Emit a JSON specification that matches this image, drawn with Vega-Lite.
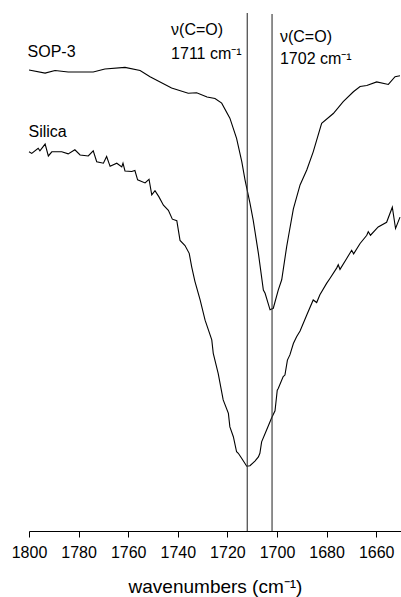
{
  "$schema": "https://vega.github.io/schema/vega-lite/v6.json",
  "width": 372,
  "height": 518,
  "autosize": {"type": "none"},
  "padding": {"left": 29, "top": 13, "right": 0, "bottom": 66},
  "background": "white",
  "config": {
    "view": {"stroke": null},
    "font": "Liberation Sans"
  },
  "datasets": {
    "spectra": [
      {"series": "SOP-3", "wn": 1800, "t": 89.0},
      {"series": "SOP-3", "wn": 1793.5, "t": 88.4},
      {"series": "SOP-3", "wn": 1789.5, "t": 88.9},
      {"series": "SOP-3", "wn": 1784.2, "t": 88.6},
      {"series": "SOP-3", "wn": 1774.1, "t": 88.6},
      {"series": "SOP-3", "wn": 1769.4, "t": 89.2},
      {"series": "SOP-3", "wn": 1761.3, "t": 89.5},
      {"series": "SOP-3", "wn": 1755.2, "t": 88.9},
      {"series": "SOP-3", "wn": 1751.2, "t": 87.7},
      {"series": "SOP-3", "wn": 1742.5, "t": 85.5},
      {"series": "SOP-3", "wn": 1735.8, "t": 84.5},
      {"series": "SOP-3", "wn": 1732.4, "t": 84.6},
      {"series": "SOP-3", "wn": 1728.2, "t": 83.8},
      {"series": "SOP-3", "wn": 1725.0, "t": 83.5},
      {"series": "SOP-3", "wn": 1722.3, "t": 82.6},
      {"series": "SOP-3", "wn": 1719.0, "t": 79.7},
      {"series": "SOP-3", "wn": 1716.3, "t": 75.8},
      {"series": "SOP-3", "wn": 1714.2, "t": 71.3},
      {"series": "SOP-3", "wn": 1712.9, "t": 67.8},
      {"series": "SOP-3", "wn": 1710.9, "t": 63.3},
      {"series": "SOP-3", "wn": 1709.6, "t": 60.0},
      {"series": "SOP-3", "wn": 1707.5, "t": 53.6},
      {"series": "SOP-3", "wn": 1705.5, "t": 46.5},
      {"series": "SOP-3", "wn": 1704.8, "t": 45.9},
      {"series": "SOP-3", "wn": 1702.8, "t": 42.7},
      {"series": "SOP-3", "wn": 1701.5, "t": 43.0},
      {"series": "SOP-3", "wn": 1699.5, "t": 46.5},
      {"series": "SOP-3", "wn": 1698.1, "t": 48.5},
      {"series": "SOP-3", "wn": 1696.1, "t": 54.9},
      {"series": "SOP-3", "wn": 1695.4, "t": 56.8},
      {"series": "SOP-3", "wn": 1693.4, "t": 62.2},
      {"series": "SOP-3", "wn": 1690.7, "t": 66.8},
      {"series": "SOP-3", "wn": 1688.0, "t": 69.7},
      {"series": "SOP-3", "wn": 1685.4, "t": 73.2},
      {"series": "SOP-3", "wn": 1682.0, "t": 78.7},
      {"series": "SOP-3", "wn": 1677.3, "t": 80.6},
      {"series": "SOP-3", "wn": 1673.3, "t": 82.9},
      {"series": "SOP-3", "wn": 1669.2, "t": 84.8},
      {"series": "SOP-3", "wn": 1666.5, "t": 85.8},
      {"series": "SOP-3", "wn": 1663.8, "t": 86.0},
      {"series": "SOP-3", "wn": 1659.8, "t": 86.7},
      {"series": "SOP-3", "wn": 1655.1, "t": 86.2},
      {"series": "SOP-3", "wn": 1652.4, "t": 87.7},
      {"series": "SOP-3", "wn": 1650.4, "t": 87.9},
      {"series": "Silica", "wn": 1800, "t": 73.2},
      {"series": "Silica", "wn": 1798.9, "t": 72.9},
      {"series": "Silica", "wn": 1796.3, "t": 73.9},
      {"series": "Silica", "wn": 1795.6, "t": 73.4},
      {"series": "Silica", "wn": 1793.5, "t": 74.7},
      {"series": "Silica", "wn": 1792.2, "t": 72.4},
      {"series": "Silica", "wn": 1790.8, "t": 73.2},
      {"series": "Silica", "wn": 1786.8, "t": 73.2},
      {"series": "Silica", "wn": 1784.2, "t": 72.8},
      {"series": "Silica", "wn": 1781.5, "t": 73.6},
      {"series": "Silica", "wn": 1779.4, "t": 72.6},
      {"series": "Silica", "wn": 1776.1, "t": 72.4},
      {"series": "Silica", "wn": 1774.1, "t": 73.4},
      {"series": "Silica", "wn": 1772.7, "t": 71.3},
      {"series": "Silica", "wn": 1770.0, "t": 71.0},
      {"series": "Silica", "wn": 1768.7, "t": 72.3},
      {"series": "Silica", "wn": 1767.3, "t": 70.4},
      {"series": "Silica", "wn": 1764.6, "t": 71.0},
      {"series": "Silica", "wn": 1762.6, "t": 70.3},
      {"series": "Silica", "wn": 1762.1, "t": 71.0},
      {"series": "Silica", "wn": 1761.3, "t": 69.5},
      {"series": "Silica", "wn": 1758.6, "t": 69.4},
      {"series": "Silica", "wn": 1757.3, "t": 69.6},
      {"series": "Silica", "wn": 1756.2, "t": 67.8},
      {"series": "Silica", "wn": 1753.2, "t": 67.2},
      {"series": "Silica", "wn": 1751.6, "t": 67.9},
      {"series": "Silica", "wn": 1750.5, "t": 64.9},
      {"series": "Silica", "wn": 1749.2, "t": 65.7},
      {"series": "Silica", "wn": 1747.6, "t": 64.5},
      {"series": "Silica", "wn": 1745.8, "t": 62.9},
      {"series": "Silica", "wn": 1743.8, "t": 61.9},
      {"series": "Silica", "wn": 1742.2, "t": 60.2},
      {"series": "Silica", "wn": 1740.4, "t": 59.9},
      {"series": "Silica", "wn": 1739.1, "t": 56.1},
      {"series": "Silica", "wn": 1737.1, "t": 55.1},
      {"series": "Silica", "wn": 1735.4, "t": 53.6},
      {"series": "Silica", "wn": 1734.4, "t": 51.0},
      {"series": "Silica", "wn": 1733.1, "t": 48.2},
      {"series": "Silica", "wn": 1731.0, "t": 44.6},
      {"series": "Silica", "wn": 1729.0, "t": 40.7},
      {"series": "Silica", "wn": 1726.3, "t": 36.9},
      {"series": "Silica", "wn": 1725.7, "t": 34.3},
      {"series": "Silica", "wn": 1723.7, "t": 30.4},
      {"series": "Silica", "wn": 1721.7, "t": 25.3},
      {"series": "Silica", "wn": 1719.6, "t": 22.7},
      {"series": "Silica", "wn": 1719.0, "t": 20.1},
      {"series": "Silica", "wn": 1717.6, "t": 18.2},
      {"series": "Silica", "wn": 1716.3, "t": 15.3},
      {"series": "Silica", "wn": 1715.6, "t": 15.0},
      {"series": "Silica", "wn": 1714.2, "t": 14.0},
      {"series": "Silica", "wn": 1712.2, "t": 12.5},
      {"series": "Silica", "wn": 1710.9, "t": 12.6},
      {"series": "Silica", "wn": 1708.9, "t": 13.5},
      {"series": "Silica", "wn": 1707.5, "t": 14.3},
      {"series": "Silica", "wn": 1706.9, "t": 15.0},
      {"series": "Silica", "wn": 1706.2, "t": 17.2},
      {"series": "Silica", "wn": 1704.2, "t": 19.5},
      {"series": "Silica", "wn": 1702.1, "t": 21.9},
      {"series": "Silica", "wn": 1700.8, "t": 23.2},
      {"series": "Silica", "wn": 1699.9, "t": 27.2},
      {"series": "Silica", "wn": 1699.5, "t": 27.5},
      {"series": "Silica", "wn": 1697.5, "t": 29.8},
      {"series": "Silica", "wn": 1696.8, "t": 30.1},
      {"series": "Silica", "wn": 1695.8, "t": 33.0},
      {"series": "Silica", "wn": 1694.8, "t": 34.0},
      {"series": "Silica", "wn": 1693.4, "t": 36.2},
      {"series": "Silica", "wn": 1692.1, "t": 37.5},
      {"series": "Silica", "wn": 1690.7, "t": 38.6},
      {"series": "Silica", "wn": 1688.0, "t": 41.7},
      {"series": "Silica", "wn": 1685.4, "t": 44.6},
      {"series": "Silica", "wn": 1684.0, "t": 44.1},
      {"series": "Silica", "wn": 1682.7, "t": 45.6},
      {"series": "Silica", "wn": 1680.0, "t": 47.8},
      {"series": "Silica", "wn": 1678.6, "t": 48.8},
      {"series": "Silica", "wn": 1675.9, "t": 50.8},
      {"series": "Silica", "wn": 1675.3, "t": 51.4},
      {"series": "Silica", "wn": 1674.6, "t": 50.5},
      {"series": "Silica", "wn": 1671.9, "t": 52.6},
      {"series": "Silica", "wn": 1669.9, "t": 54.2},
      {"series": "Silica", "wn": 1669.1, "t": 53.5},
      {"series": "Silica", "wn": 1666.5, "t": 55.5},
      {"series": "Silica", "wn": 1663.8, "t": 57.1},
      {"series": "Silica", "wn": 1663.2, "t": 57.8},
      {"series": "Silica", "wn": 1662.3, "t": 57.1},
      {"series": "Silica", "wn": 1659.2, "t": 58.7},
      {"series": "Silica", "wn": 1655.8, "t": 59.6},
      {"series": "Silica", "wn": 1653.5, "t": 62.5},
      {"series": "Silica", "wn": 1652.2, "t": 58.4},
      {"series": "Silica", "wn": 1650.4, "t": 60.6}
    ],
    "peaks": [
      {"wn": 1712, "top": 100},
      {"wn": 1702, "top": 99.8}
    ],
    "labels": [
      {"wn": 1800.6, "t": 91.6, "txt": "SOP-3"},
      {"wn": 1800.2, "t": 76.1, "txt": "Silica"},
      {"wn": 1742.7, "t": 95.7, "txt": "ν(C=O)"},
      {"wn": 1742.7, "t": 91.1, "txt": "1711 cm⁻¹"},
      {"wn": 1698.8, "t": 94.4, "txt": "ν(C=O)"},
      {"wn": 1698.8, "t": 90.2, "txt": "1702 cm⁻¹"}
    ]
  },
  "layer": [
    {
      "data": {"name": "spectra"},
      "mark": {"type": "line", "color": "black", "strokeWidth": 1.1},
      "encoding": {
        "x": {
          "field": "wn",
          "type": "quantitative",
          "scale": {"domain": [1650, 1800], "reverse": true, "nice": false, "zero": false},
          "axis": {
            "values": [1800, 1790, 1780, 1770, 1760, 1750, 1740, 1730, 1720, 1710, 1700, 1690, 1680, 1670, 1660],
            "labelExpr": "datum.value % 20 === 0 ? datum.label : ''",
            "format": "d",
            "title": "wavenumbers (cm⁻¹)",
            "titleFont": "Liberation Sans",
            "titleFontSize": 19,
            "titleFontWeight": "normal",
            "titleColor": "black",
            "titlePadding": 17,
            "labelFont": "Liberation Sans",
            "labelFontSize": 16,
            "labelColor": "black",
            "labelPadding": 7,
            "labelFlush": false,
            "labelOverlap": false,
            "domainColor": "black",
            "domainWidth": 1,
            "tickColor": "black",
            "tickWidth": 1,
            "tickSize": {"expr": "datum.value % 20 === 0 ? 6 : 3"},
            "grid": false
          }
        },
        "y": {
          "field": "t",
          "type": "quantitative",
          "scale": {"domain": [0, 100], "nice": false},
          "axis": null
        },
        "detail": {"field": "series"}
      }
    },
    {
      "data": {"name": "peaks"},
      "mark": {"type": "rule", "color": "#333333", "strokeWidth": 1.1},
      "encoding": {
        "x": {"field": "wn", "type": "quantitative"},
        "y": {"field": "top", "type": "quantitative"},
        "y2": {"datum": 0}
      }
    },
    {
      "data": {"name": "labels"},
      "mark": {"type": "text", "align": "left", "baseline": "alphabetic", "fontSize": 16, "font": "Liberation Sans", "color": "black"},
      "encoding": {
        "x": {"field": "wn", "type": "quantitative"},
        "y": {"field": "t", "type": "quantitative"},
        "text": {"field": "txt"}
      }
    }
  ]
}
